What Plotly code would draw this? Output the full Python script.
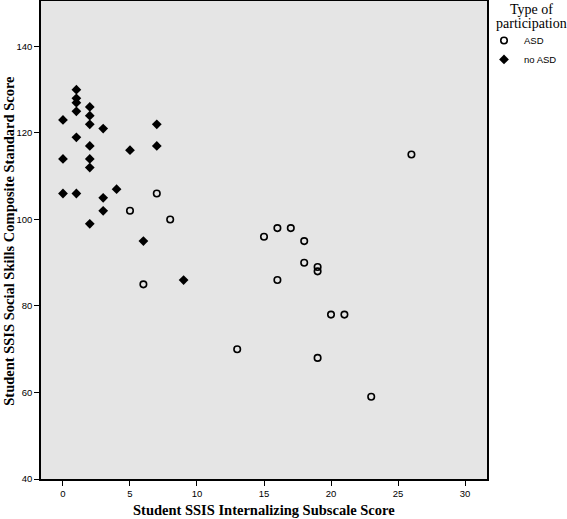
import plotly.graph_objects as go

# Data
asd_x = [7, 5, 8, 6, 13, 19, 16, 26, 15, 16, 17, 18, 18, 19, 19, 20, 21, 23]
asd_y = [106, 102, 100, 85, 70, 68, 86, 115, 96, 98, 98, 95, 90, 89, 88, 78, 78, 59]

noasd_x = [1, 1, 1, 1, 0, 2, 2, 2, 3, 7, 1, 2, 7, 5, 0, 2, 2, 4, 0, 1, 3, 3, 2, 6, 9]
noasd_y = [130, 128, 127, 125, 123, 126, 124, 122, 121, 122, 119, 117, 117, 116, 114, 114, 112,
           107, 106, 106, 105, 102, 99, 95, 86]

x_ticks = [0, 5, 10, 15, 20, 25, 30]
y_ticks = [40, 60, 80, 100, 120, 140]

W, H = 567, 519
L, R, T, B = 41, 80, 1, 39.5
pw = W - L - R
ph = H - T - B

def px_x(p):
    return (p - L) / pw

def px_y(p):
    return 1 - (p - T) / ph

fig = go.Figure()
fig.add_trace(go.Scatter(
    x=asd_x, y=asd_y, mode="markers", name="ASD",
    marker=dict(symbol="circle-open", size=6.5, color="black", line=dict(width=1.6, color="black")),
))
fig.add_trace(go.Scatter(
    x=noasd_x, y=noasd_y, mode="markers", name="no ASD",
    marker=dict(symbol="diamond", size=7.5, color="black", line=dict(width=0)),
))

tickfont = dict(family="Liberation Sans", size=9.5, color="black")
fig.update_xaxes(
    range=[-1.64, 31.64], tickvals=x_ticks, ticktext=[str(v) for v in x_ticks],
    showgrid=False, zeroline=False, showline=True, linecolor="black", linewidth=1.6,
    mirror=True, ticks="outside", ticklen=5, tickwidth=1, tickcolor="black",
    tickfont=tickfont,
)
fig.update_yaxes(
    range=[40, 150.5], tickvals=y_ticks, ticktext=[str(v) for v in y_ticks],
    showgrid=False, zeroline=False, showline=True, linecolor="black", linewidth=1.6,
    mirror=True, ticks="outside", ticklen=5, tickwidth=1, tickcolor="black",
    tickfont=tickfont,
)

fig.update_layout(
    width=W, height=H,
    margin=dict(l=L, r=R, t=T, b=B, autoexpand=False),
    plot_bgcolor="#e5e5e5", paper_bgcolor="white",
    showlegend=True,
    legend=dict(
        x=px_x(484), y=px_y(26), xanchor="left", yanchor="top",
        font=dict(family="Liberation Sans", size=9.5, color="black"),
        bgcolor="rgba(0,0,0,0)", borderwidth=0, tracegroupgap=0,
        itemwidth=30,
    ),
    annotations=[
        dict(text="<b>Student SSIS Internalizing Subscale Score</b>", xref="paper", yref="paper",
             x=0.5, y=px_y(511), xanchor="center", yanchor="middle", showarrow=False,
             font=dict(family="Liberation Serif", size=14.5, color="black")),
        dict(text="<b>Student SSIS Social Skills Composite Standard Score</b>", xref="paper", yref="paper",
             x=px_x(9), y=px_y(241), xanchor="center", yanchor="middle", showarrow=False, textangle=-90,
             font=dict(family="Liberation Serif", size=14.5, color="black")),
        dict(text="Type of", xref="paper", yref="paper",
             x=px_x(531), y=px_y(10), xanchor="center", yanchor="middle", showarrow=False,
             font=dict(family="Liberation Serif", size=14, color="black")),
        dict(text="participation", xref="paper", yref="paper",
             x=px_x(531), y=px_y(24), xanchor="center", yanchor="middle", showarrow=False,
             font=dict(family="Liberation Serif", size=14, color="black")),
    ],
)

fig.write_html("out.html")
